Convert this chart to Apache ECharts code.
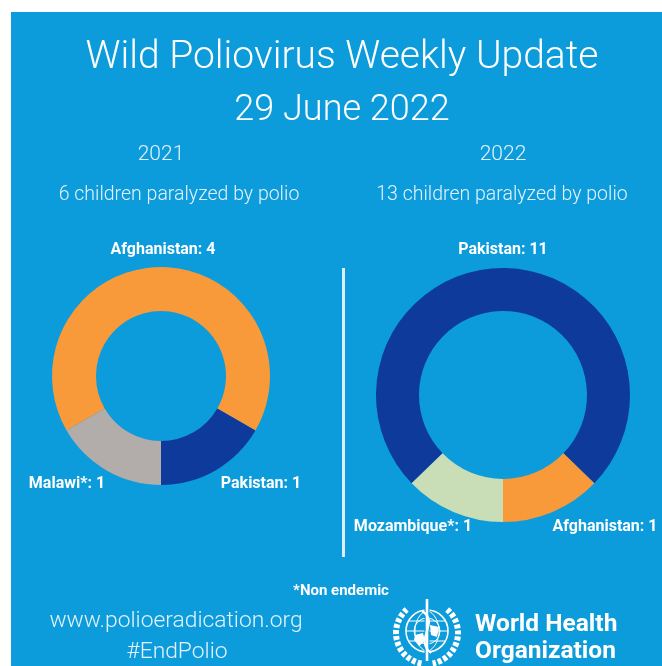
<!DOCTYPE html>
<html>
<head>
<meta charset="utf-8">
<script src="https://cdn.jsdelivr.net/npm/echarts@6/dist/echarts.min.js"></script>
<style>
html,body{margin:0;padding:0;background:#ffffff;}
#chart{width:662px;height:666px;}
</style>
</head>
<body>
<div id="chart"></div>
<script>
// ---------- data ----------
const titleText = 'Wild Poliovirus Weekly Update';
const dateText = '29 June 2022';
const years = ['2021', '2022'];
const countries2021 = ['Afghanistan', 'Pakistan', 'Malawi*'];
const cases2021 = [4, 1, 1];
const countries2022 = ['Pakistan', 'Afghanistan', 'Mozambique*'];
const cases2022 = [11, 1, 1];
const footnote = '*Non endemic';
const website = 'www.polioeradication.org';
const hashtag = '#EndPolio';
const orgLines = ['World Health', 'Organization'];

// ---------- styles ----------
const BG = '#0C9BDB';
const countryColors = {
  'Afghanistan': '#F8993A',
  'Pakistan': '#0E3A9B',
  'Malawi*': '#B2ACAB',
  'Mozambique*': '#C9DEB6'
};
const TXT = '#FFFFFF';
const SUB = '#E4F3FB';
const MIN_ANGLE_2022 = 46; // the infographic enlarges the small slices

const sum = a => a.reduce((s, v) => s + v, 0);
const buildData = (names, vals) => names.map((n, i) => ({
  name: n, value: vals[i], itemStyle: { color: countryColors[n] }
}));
// rotate so that the first (largest) slice is centered at the top
const startFor = (vals, minAng) => {
  const total = sum(vals);
  let small = 0, others = 0;
  vals.slice(1).forEach(v => {
    const a = 360 * v / total;
    if (minAng && a < minAng) small += minAng; else others += a;
  });
  const first = minAng ? 360 - small - others : 360 * vals[0] / total;
  return 90 + first / 2;
};

// label anchor positions (layout)
const labelPos = [
  [[163, 250], [261, 484], [67, 484]],
  [[503, 250], [605, 527], [413, 527]]
];

const labelStyle = {
  show: true,
  formatter: p => p.name + ': ' + p.value,
  color: TXT,
  fontFamily: 'Roboto',
  fontWeight: 'bold',
  fontSize: 16,
  overflow: 'none',
  width: 200
};

const chart = echarts.init(document.getElementById('chart'), null, { renderer: 'canvas' });

// WHO emblem (simplified)
const ex = 427, ey = 631;
const emblem = [
  { type: 'circle', shape: { cx: ex, cy: ey, r: 21 }, style: { fill: 'none', stroke: TXT, lineWidth: 1.6 } },
  { type: 'circle', shape: { cx: ex, cy: ey, r: 13 }, style: { fill: 'none', stroke: TXT, lineWidth: 1 } },
  { type: 'line', shape: { x1: ex - 21, y1: ey, x2: ex + 21, y2: ey }, style: { stroke: TXT, lineWidth: 1 } },
  { type: 'line', shape: { x1: ex - 18, y1: ey - 10, x2: ex + 18, y2: ey - 10 }, style: { stroke: TXT, lineWidth: 1 } },
  { type: 'line', shape: { x1: ex - 18, y1: ey + 10, x2: ex + 18, y2: ey + 10 }, style: { stroke: TXT, lineWidth: 1 } },
  { type: 'bezierCurve', shape: { x1: ex, y1: ey - 21, x2: ex, y2: ey + 21, cpx1: ex - 16, cpy1: ey - 14, cpx2: ex - 16, cpy2: ey + 14 }, style: { fill: 'none', stroke: TXT, lineWidth: 1 } },
  { type: 'bezierCurve', shape: { x1: ex, y1: ey - 21, x2: ex, y2: ey + 21, cpx1: ex + 16, cpy1: ey - 14, cpx2: ex + 16, cpy2: ey + 14 }, style: { fill: 'none', stroke: TXT, lineWidth: 1 } },
  { type: 'polygon', shape: { points: [[ex - 12, ey + 4], [ex - 4, ey + 2], [ex - 2, ey + 10], [ex - 8, ey + 15], [ex - 13, ey + 9]] }, style: { fill: TXT } },
  { type: 'polygon', shape: { points: [[ex + 3, ey - 6], [ex + 12, ey - 4], [ex + 10, ey + 6], [ex + 4, ey + 4]] }, style: { fill: TXT } },
  { type: 'arc', shape: { cx: ex, cy: ey + 2, r: 31, startAngle: 1.75, endAngle: 4.0, clockwise: true }, style: { stroke: TXT, lineWidth: 6, lineDash: [4, 2], fill: 'none' } },
  { type: 'arc', shape: { cx: ex, cy: ey + 2, r: 31, startAngle: -0.86, endAngle: 1.39, clockwise: true }, style: { stroke: TXT, lineWidth: 6, lineDash: [4, 2], fill: 'none' } },
  { type: 'line', shape: { x1: ex, y1: ey - 31, x2: ex, y2: ey + 30 }, style: { stroke: BG, lineWidth: 5 } },
  { type: 'line', shape: { x1: ex, y1: ey - 32, x2: ex, y2: ey + 30 }, style: { stroke: TXT, lineWidth: 2.6 } },
  { type: 'bezierCurve', shape: { x1: ex - 5, y1: ey - 20, x2: ex + 4, y2: ey + 22, cpx1: ex + 14, cpy1: ey - 8, cpx2: ex - 14, cpy2: ey + 8 }, style: { fill: 'none', stroke: TXT, lineWidth: 2.2 } }
];

const txt = (x, y, text, size, weight, fill, align) => ({
  type: 'text', x: x, y: y,
  style: { text: text, fill: fill || TXT, fontFamily: 'Roboto', fontWeight: weight, fontSize: size, align: align || 'center', verticalAlign: 'middle' }
});

const option = {
  backgroundColor: '#ffffff',
  animation: false,
  graphic: [
    { type: 'rect', z: -10, shape: { x: 11, y: 12, width: 662, height: 666 }, style: { fill: BG } },
    txt(342, 58, titleText, 39, 300),
    txt(342, 111, dateText, 36, 300),
    txt(161, 155, years[0], 21, 300, SUB),
    txt(503, 155, years[1], 21, 300, SUB),
    txt(179, 195, sum(cases2021) + ' children paralyzed by polio', 19.5, 300, SUB),
    txt(502, 195, sum(cases2022) + ' children paralyzed by polio', 19.5, 300, SUB),
    { type: 'rect', shape: { x: 342, y: 268, width: 3, height: 289 }, style: { fill: '#DCEFF8' } },
    txt(341, 591, footnote, 15, 'bold'),
    txt(176, 621, website, 22.8, 300, SUB),
    txt(177, 652, hashtag, 22.8, 300, SUB),
    txt(475, 625, orgLines[0], 24.5, 'bold', TXT, 'left'),
    txt(475, 652, orgLines[1], 24.5, 'bold', TXT, 'left'),
    { type: 'group', children: emblem }
  ],
  series: [
    {
      type: 'pie', center: [161, 376], radius: [65, 109],
      startAngle: startFor(cases2021), clockwise: true,
      data: buildData(countries2021, cases2021),
      label: labelStyle, labelLine: { show: false },
      labelLayout: p => ({ x: labelPos[0][p.dataIndex][0], y: labelPos[0][p.dataIndex][1], align: 'center', verticalAlign: 'middle' }),
      emphasis: { disabled: true }, silent: true,
      itemStyle: { borderWidth: 0 }
    },
    {
      type: 'pie', center: [503, 395], radius: [84, 127],
      startAngle: startFor(cases2022, MIN_ANGLE_2022), clockwise: true,
      minAngle: MIN_ANGLE_2022,
      data: buildData(countries2022, cases2022),
      label: labelStyle, labelLine: { show: false },
      labelLayout: p => ({ x: labelPos[1][p.dataIndex][0], y: labelPos[1][p.dataIndex][1], align: 'center', verticalAlign: 'middle' }),
      emphasis: { disabled: true }, silent: true,
      itemStyle: { borderWidth: 0 }
    }
  ]
};
chart.setOption(option);
</script>
</body>
</html>
